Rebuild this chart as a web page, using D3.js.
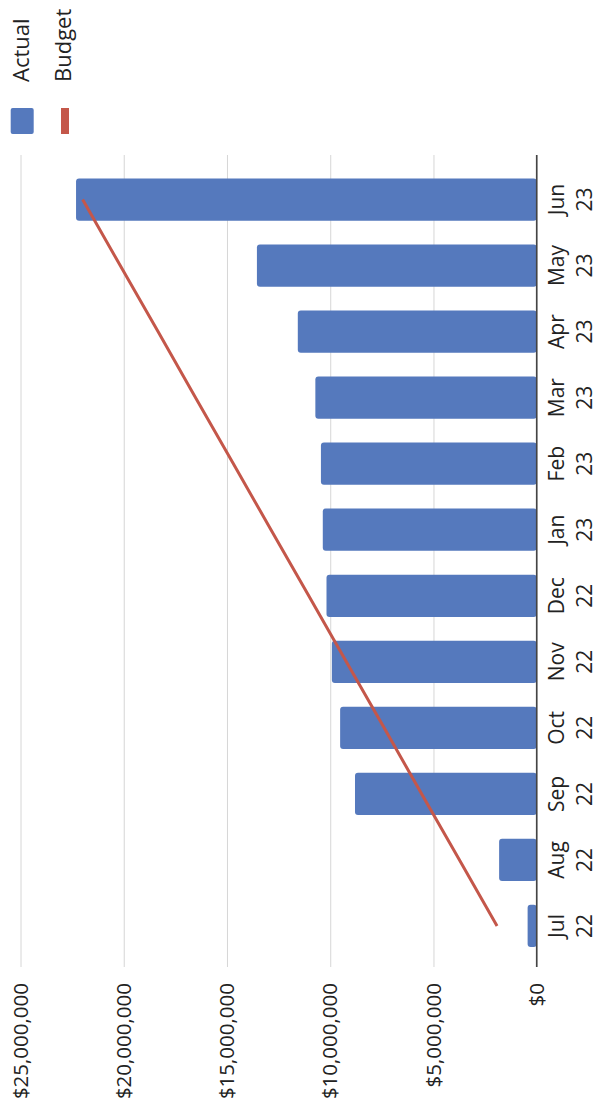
<!DOCTYPE html>
<html>
<head>
<meta charset="utf-8">
<script src="https://cdn.jsdelivr.net/npm/d3@7"></script>
<style>
  html, body { margin: 0; padding: 0; background: #ffffff; }
  svg { display: block; }
  text { font-family: "Open Sans", sans-serif; fill: #222; }
</style>
</head>
<body>
<svg id="chart" width="599" height="1109"></svg>
<script>
// ---- data ----
const categories = ["Jul 22","Aug 22","Sep 22","Oct 22","Nov 22","Dec 22","Jan 23","Feb 23","Mar 23","Apr 23","May 23","Jun 23"];
const actual = [440000, 1820000, 8800000, 9520000, 9920000, 10180000, 10360000, 10450000, 10720000, 11570000, 13550000, 22310000];
const budget = [1920000, 3740000, 5570000, 7390000, 9220000, 11040000, 12870000, 14690000, 16520000, 18340000, 20170000, 21990000];
const tickValues = [0, 5000000, 10000000, 15000000, 20000000, 25000000];
const tickLabels = ["$0", "$5,000,000", "$10,000,000", "$15,000,000", "$20,000,000", "$25,000,000"];
const seriesNames = ["Actual", "Budget"];

const W = 599, H = 1109;
const blue = "#5579BD", red = "#C4574A";

const svg = d3.select("#chart");
svg.append("rect").attr("width", W).attr("height", H).attr("fill", "#fff");

// Chart is drawn as an ordinary column chart, then the whole group is rotated -90deg.
// rotated coords: origX = H - screenY, origY = screenX
const g = svg.append("g").attr("transform", `translate(0,${H}) rotate(-90)`);

const x = d3.scaleBand().domain(categories).range([150, 942.5]).paddingInner(0.36).paddingOuter(0.18);
const y = d3.scaleLinear().domain([0, 25000000]).range([536.7, 20.5]);

// value axis + gridlines
const yAxis = d3.axisLeft(y)
  .tickValues(tickValues)
  .tickFormat((d, i) => tickLabels[i])
  .tickSizeInner(-(954 - 142))
  .tickSizeOuter(0)
  .tickPadding(16);
const ya = g.append("g").attr("transform", "translate(142,0)").call(yAxis);
ya.select(".domain").remove();
ya.selectAll(".tick line").attr("stroke", "#d6d6d6").attr("stroke-width", 1);
ya.selectAll(".tick text").attr("font-size", 20.5).attr("fill", "#222").attr("font-family", '"Open Sans", sans-serif');

// bars
g.append("g").selectAll("rect").data(categories).join("rect")
  .attr("x", d => x(d))
  .attr("width", x.bandwidth())
  .attr("y", (d, i) => y(actual[i]))
  .attr("height", (d, i) => y(0) - y(actual[i]))
  .attr("rx", 3)
  .attr("fill", blue);

// category axis
const xAxis = d3.axisBottom(x).tickSize(0).tickSizeOuter(0);
const xa = g.append("g").attr("transform", `translate(0,${y(0)})`).call(xAxis);
xa.select(".domain").remove();
xa.selectAll(".tick text").each(function(d) {
  const parts = d.split(" ");
  const t = d3.select(this).text(null).attr("y", 0).attr("dy", null)
    .attr("font-size", 21).attr("fill", "#222").attr("font-family", '"Open Sans", sans-serif');
  t.append("tspan").attr("x", 0).attr("y", 27.5).text(parts[0]);
  t.append("tspan").attr("x", 0).attr("y", 55.5).text(parts[1]);
});
// axis line
g.append("line")
  .attr("x1", 142).attr("x2", 954)
  .attr("y1", y(0)).attr("y2", y(0))
  .attr("stroke", "#444").attr("stroke-width", 1.6);

// budget line
const line = d3.line()
  .x((d, i) => x(categories[i]) + x.bandwidth() / 2)
  .y(d => y(d));
g.append("path").datum(budget)
  .attr("d", line)
  .attr("fill", "none")
  .attr("stroke", red)
  .attr("stroke-width", 3);

// legend
const leg = g.append("g");
leg.append("rect").attr("x", 975).attr("y", 10.7).attr("width", 26).attr("height", 23).attr("rx", 2).attr("fill", blue);
leg.append("text").attr("x", 1027).attr("y", 29).attr("font-size", 22).text(seriesNames[0]);
leg.append("rect").attr("x", 975).attr("y", 61).attr("width", 26).attr("height", 8).attr("fill", red);
leg.append("text").attr("x", 1027).attr("y", 71).attr("font-size", 22).text(seriesNames[1]);
</script>
</body>
</html>
